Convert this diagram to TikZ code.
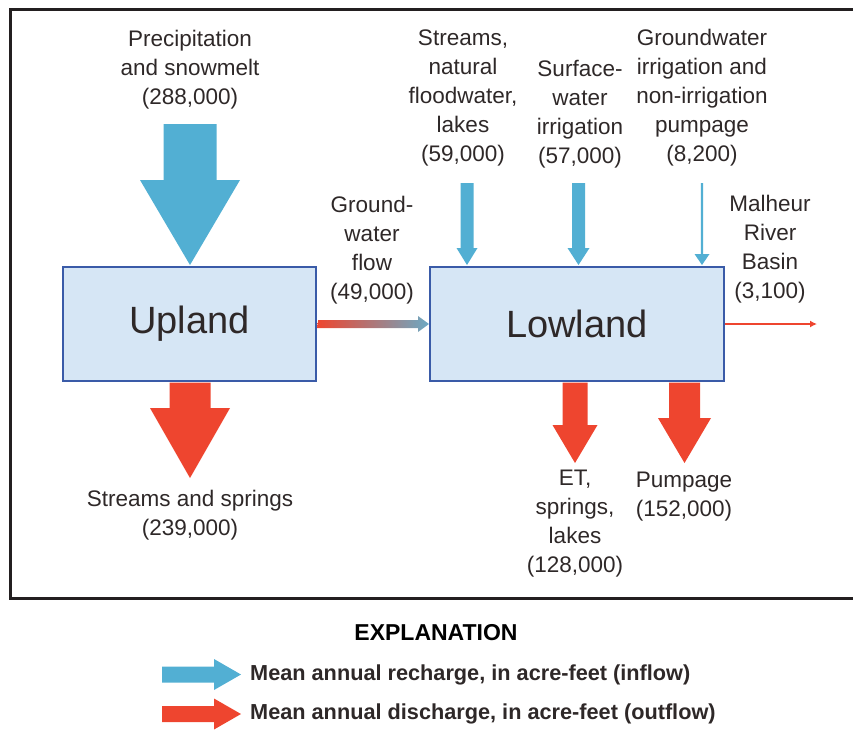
\documentclass[tikz,border=0pt]{standalone}
\usepackage{fontspec}
\setmainfont{Liberation Sans}
\usetikzlibrary{arrows.meta}
\definecolor{inblue}{HTML}{52AFD3}
\definecolor{outred}{HTML}{EE452F}
\definecolor{boxfill}{HTML}{D6E6F5}
\definecolor{boxline}{HTML}{3A5BA8}
\definecolor{txt}{HTML}{2E2828}
\definecolor{flowblue}{HTML}{6CAAC4}
\definecolor{framecol}{HTML}{231F20}
\newcommand\blockdown[7]{%
  \fill[#7] ({#1-#3},#2) -- ({#1+#3},#2) -- ({#1+#3},#4) -- ({#1+#5},#4) -- (#1,#6)
    -- ({#1-#5},#4) -- ({#1-#3},#4) -- cycle;}
\newcommand\blockright[7]{%
  \fill[#7] (#2,{#1-#3}) -- (#4,{#1-#3}) -- (#4,{#1-#5}) -- (#6,#1) -- (#4,{#1+#5})
    -- (#4,{#1+#3}) -- (#2,{#1+#3}) -- cycle;}
\begin{document}
\begin{tikzpicture}[x=1pt,y=-1pt,
  lbl/.style={text=txt, font=\fontsize{22.5}{29}\selectfont, align=center, inner sep=0pt},
  region/.style={draw=boxline, fill=boxfill, line width=2.4pt, text=txt,
    font=\fontsize{38}{40}\selectfont, inner sep=0pt},
  legtext/.style={text=txt, font=\bfseries\fontsize{21.7}{21.7}\selectfont, anchor=west, inner sep=0pt}]
\useasboundingbox (0,0) rectangle (853,729);
% frame
\draw[line width=3pt, framecol] (870,9.5) -- (10.5,9.5) -- (10.5,598) -- (870,598);
% regions
\node[region, minimum width=253pt, minimum height=114pt] (up) at (189.5,324) {Upland};
\node[region, minimum width=294pt, minimum height=114pt] (low) at (577,324) {Lowland};
% labels
\node[lbl] (precip) at (190,70) {Precipitation\\and snowmelt\\(288,000)};
\node[lbl] (streams) at (463,97.5) {Streams,\\natural\\floodwater,\\lakes\\(59,000)};
\node[lbl] (surf) at (580,114) {Surface-\\water\\irrigation\\(57,000)};
\node[lbl] (gwp) at (702,97.5) {Groundwater\\irrigation and\\non-irrigation\\pumpage\\(8,200)};
\node[lbl] (mal) at (770,249) {Malheur\\River\\Basin\\(3,100)};
\node[lbl] (gwf) at (372,250) {Ground-\\water\\flow\\(49,000)};
\node[lbl] (ss) at (190,515) {Streams and springs\\(239,000)};
\node[lbl] (et) at (575,524) {ET,\\springs,\\lakes\\(128,000)};
\node[lbl] (pump) at (684,496.5) {Pumpage\\(152,000)};
% inflow arrows
\blockdown{190}{124}{26.5}{180}{50}{265}{inblue}
\blockdown{467}{183}{6.5}{248}{10.5}{265}{inblue}
\blockdown{578.5}{183}{6.5}{248}{11}{265}{inblue}
\blockdown{702}{183}{1.2}{254}{7.5}{265}{inblue}
% outflow arrows
\blockdown{190}{382.5}{20.5}{408}{40}{478}{outred}
\blockdown{575}{382.5}{12.5}{425}{22.5}{463}{outred}
\blockdown{684.5}{382.5}{15.5}{418}{26.5}{463}{outred}
% groundwater flow between regions
\shade[left color=outred, right color=flowblue]
  (up.east) ++(1,-4) -- (418,320) -- (418,316) -- (429,324) -- (418,332) -- (418,328) -- (317,328) -- cycle;
% Malheur outflow
\coordinate (malend) at (817,324);
\draw[outred, line width=2pt, -{Latex[length=7pt,width=7pt]}] (low.east) -- (malend);
% legend
\node[text=black, font=\bfseries\fontsize{23}{23}\selectfont, inner sep=0pt] (expl) at (436,633) {EXPLANATION};
\blockright{674.5}{162}{8}{214}{15.5}{241}{inblue}
\blockright{714}{162}{8}{214}{15.5}{241}{outred}
\node[legtext] (legin) at (250,675) {Mean annual recharge, in acre-feet (inflow)};
\node[legtext] (legout) at (250,714) {Mean annual discharge, in acre-feet (outflow)};
\end{tikzpicture}
\end{document}
